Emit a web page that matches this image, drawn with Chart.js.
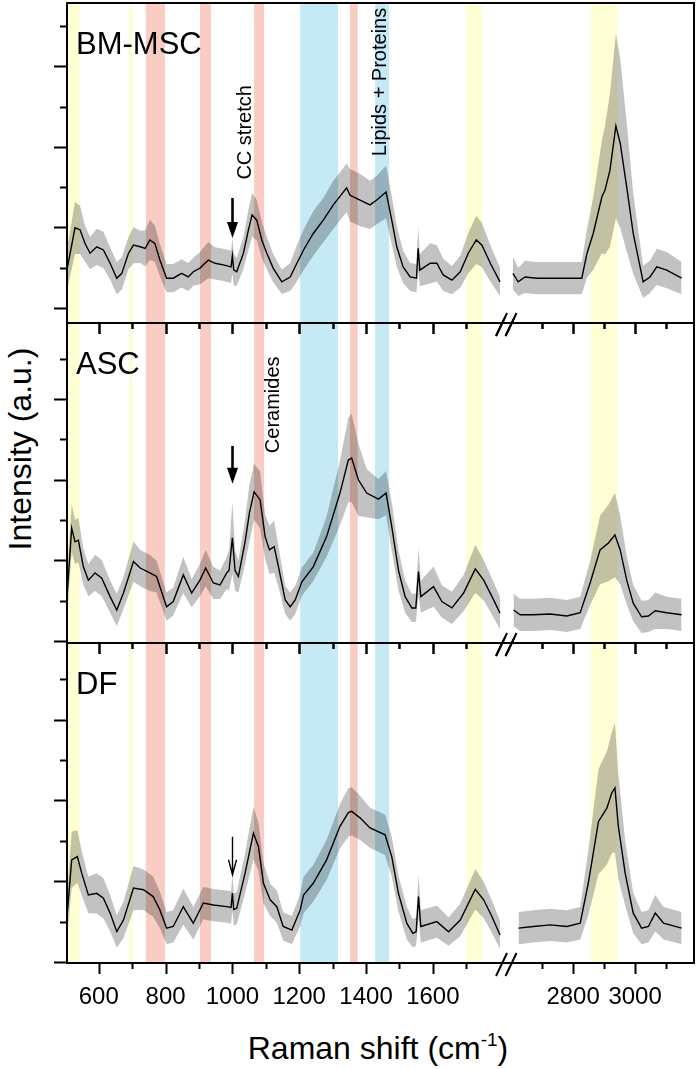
<!DOCTYPE html>
<html>
<head>
<meta charset="utf-8">
<script src="https://cdn.jsdelivr.net/npm/chart.js@4.4.1/dist/chart.umd.min.js"></script>
<style>
  html, body { margin: 0; padding: 0; background: #fff; }
  #fig { position: relative; width: 700px; height: 1069px; overflow: hidden;
         font-family: "Liberation Sans", Arial, sans-serif; color: #000; }
  #fig canvas { position: absolute; left: 0; }
  #ytitle { position: absolute; left: 20px; top: 449px; font-size: 32px; line-height: 32px;
            white-space: nowrap; transform: translate(-50%, -50%) rotate(-90deg); }
  #xtitle { position: absolute; left: 378px; top: 1032px; font-size: 32px; line-height: 32px;
            white-space: nowrap; transform: translateX(-50%); }
  #xtitle sup { font-size: 19px; vertical-align: 0; position: relative; top: -13px; }
</style>
</head>
<body>
<div id="fig">
  <canvas id="p1" width="700" height="340" style="top:0px; width:700px; height:340px; z-index:3"></canvas>
  <canvas id="p2" width="700" height="342" style="top:318px; width:700px; height:342px; z-index:2"></canvas>
  <canvas id="p3" width="700" height="431" style="top:638px; width:700px; height:431px; z-index:1"></canvas>
  <div id="ytitle">Intensity (a.u.)</div>
  <div id="xtitle">Raman shift (cm<sup>-1</sup>)</div>
</div>
<script>
// Raman shift grid (cm-1); 2200 marks the axis break (no data)
const bmShift = [505, 529, 544, 559, 574, 594, 614, 634, 654, 669, 689, 704, 724, 739, 753, 768, 783, 803, 823, 848,
  868, 883, 903, 928, 948, 973, 996, 1000, 1004, 1013, 1033, 1048, 1059, 1073, 1088, 1103, 1122, 1148, 1173, 1193,
  1213, 1242, 1272, 1302, 1342, 1352, 1382, 1412, 1432, 1460, 1477, 1492, 1511, 1532, 1551, 1556, 1561, 1592, 1612, 1631,
  1657, 1682, 1706, 1730, 1747, 1772, 1801, 2200, 2606, 2623, 2645, 2683, 2726, 2780, 2828, 2845, 2865, 2893,
  2903, 2919, 2938, 2952, 2973, 2994, 3026, 3048, 3070, 3102, 3150];
const bmMean = [0.95, 1.99, 1.94, 1.6, 1.36, 1.52, 1.44, 1.11, 0.74, 0.86, 1.36, 1.56, 1.52, 1.48, 1.69, 1.6, 1.19, 0.74, 0.74, 0.86,
  0.77, 0.9, 0.99, 1.19, 1.11, 1.07, 1.02, 1.3, 0.95, 0.9, 1.36, 1.94, 2.31, 2.18, 1.69, 1.36, 0.99, 0.65, 0.77, 1.11,
  1.44, 1.85, 2.18, 2.56, 2.98, 2.8, 2.68, 2.56, 2.68, 2.88, 2.18, 1.52, 1.02, 0.77, 0.74, 1.48, 0.94, 1.11, 1.11, 0.82,
  0.69, 0.9, 1.36, 1.69, 1.56, 1.11, 0.65, null, 0.86, 0.65, 0.77, 0.74, 0.74, 0.74, 0.74, 1.36, 1.85, 2.76,
  2.93, 3.42, 4.52, 4.09, 3.0, 1.85, 0.65, 0.77, 1.02, 0.94, 0.74];
const bmSpread = [0.5, 0.65, 0.6, 0.45, 0.4, 0.45, 0.45, 0.4, 0.4, 0.4, 0.4, 0.45, 0.4, 0.45, 0.5, 0.45, 0.4, 0.35, 0.35, 0.35,
  0.35, 0.35, 0.4, 0.45, 0.4, 0.4, 0.4, 0.45, 0.4, 0.35, 0.4, 0.5, 0.55, 0.5, 0.45, 0.4, 0.35, 0.3, 0.35, 0.45,
  0.5, 0.55, 0.55, 0.6, 0.6, 0.65, 0.65, 0.6, 0.6, 0.65, 0.6, 0.5, 0.4, 0.35, 0.35, 0.55, 0.4, 0.5, 0.45, 0.4,
  0.35, 0.4, 0.5, 0.6, 0.55, 0.45, 0.35, null, 0.4, 0.35, 0.4, 0.4, 0.4, 0.4, 0.4, 0.6, 0.9, 1.4,
  1.6, 1.9, 2.3, 2.1, 1.6, 1.0, 0.4, 0.4, 0.45, 0.45, 0.4];

const ascShift = [505, 519, 529, 539, 554, 569, 589, 609, 634, 654, 674, 704, 724, 753, 773, 803, 823, 853, 878, 903,
  920, 943, 963, 983, 990, 1000, 1008, 1018, 1038, 1051, 1065, 1083, 1098, 1111, 1125, 1138, 1158, 1173, 1188, 1208,
  1242, 1282, 1322, 1347, 1357, 1377, 1402, 1437, 1460, 1477, 1497, 1517, 1537, 1549, 1557, 1564, 1602, 1627, 1657, 1692,
  1727, 1752, 1777, 1801, 2200, 2608, 2629, 2672, 2726, 2780, 2823, 2855, 2887, 2914, 2935, 2952, 2973, 2994, 3021, 3043,
  3065, 3102, 3150];
const ascMean = [1.1, 2.8, 2.46, 2.5, 1.84, 1.51, 1.69, 1.56, 1.1, 0.77, 1.19, 1.97, 1.81, 1.69, 1.6, 0.85, 0.98, 1.64, 1.19, 1.51,
  1.81, 1.44, 1.39, 1.69, 1.75, 2.56, 1.75, 1.6, 2.46, 3.18, 3.7, 3.5, 2.59, 2.26, 2.34, 1.84, 1.02, 0.85, 1.02, 1.47,
  1.84, 2.59, 3.67, 4.49, 4.54, 4.0, 3.67, 3.52, 3.67, 2.84, 1.76, 1.1, 0.82, 0.82, 1.72, 1.1, 1.35, 0.98, 0.82, 1.19,
  1.79, 1.51, 1.1, 0.69, null, 0.77, 0.65, 0.65, 0.67, 0.62, 0.7, 1.44, 2.26, 2.43, 2.63, 2.26, 1.51, 0.94, 0.6, 0.62,
  0.75, 0.7, 0.65];
const ascSpread = [0.5, 0.6, 0.55, 0.55, 0.45, 0.4, 0.45, 0.45, 0.4, 0.4, 0.4, 0.5, 0.45, 0.45, 0.4, 0.35, 0.35, 0.45, 0.35, 0.4,
  0.45, 0.4, 0.35, 0.4, 0.5, 0.9, 0.5, 0.4, 0.55, 0.7, 0.7, 0.7, 0.55, 0.6, 0.65, 0.5, 0.35, 0.35, 0.35, 0.35,
  0.35, 0.5, 0.8, 1.05, 1.1, 0.9, 0.6, 0.5, 0.55, 0.6, 0.5, 0.4, 0.35, 0.35, 0.6, 0.4, 0.5, 0.4, 0.4, 0.45,
  0.6, 0.5, 0.45, 0.4, null, 0.4, 0.4, 0.4, 0.4, 0.4, 0.4, 0.55, 0.85, 0.95, 1.05, 0.85, 0.6, 0.45, 0.4, 0.4,
  0.45, 0.4, 0.4];

const dfShift = [505, 519, 536, 549, 569, 594, 614, 634, 654, 674, 704, 734, 763, 783, 803, 823, 853, 883, 913, 943,
  983, 996, 1000, 1004, 1013, 1038, 1063, 1078, 1093, 1113, 1133, 1152, 1178, 1203, 1213, 1242, 1282, 1322, 1347, 1357,
  1382, 1412, 1457, 1477, 1497, 1522, 1540, 1550, 1557, 1564, 1612, 1647, 1682, 1727, 1752, 1777, 1801, 2200,
  2624, 2672, 2726, 2780, 2823, 2849, 2882, 2909, 2925, 2935, 2946, 2968, 2994, 3021, 3043, 3065, 3092, 3150];
const dfMean = [1.12, 2.53, 2.61, 2.2, 1.66, 1.7, 1.58, 1.21, 0.75, 1.04, 1.83, 1.79, 1.62, 1.29, 0.84, 0.88, 1.37, 0.96, 1.46, 1.41,
  1.37, 1.35, 1.71, 1.3, 1.33, 2.2, 3.19, 2.86, 1.95, 1.54, 1.37, 0.88, 0.79, 1.29, 1.66, 1.95, 2.53, 3.36, 3.7, 3.73,
  3.57, 3.32, 3.15, 2.61, 1.7, 0.96, 0.71, 0.75, 1.62, 0.88, 1.0, 0.75, 1.04, 1.8, 1.54, 1.12, 0.67, null,
  0.84, 0.88, 0.92, 0.88, 0.96, 1.95, 3.48, 3.81, 4.19, 4.31, 3.36, 2.2, 1.21, 0.84, 0.88, 1.21, 0.96, 0.84];
const dfSpread = [0.5, 0.7, 0.65, 0.55, 0.45, 0.5, 0.5, 0.45, 0.4, 0.45, 0.55, 0.5, 0.5, 0.45, 0.4, 0.4, 0.45, 0.4, 0.4, 0.4,
  0.4, 0.4, 0.45, 0.4, 0.4, 0.5, 0.65, 0.6, 0.5, 0.4, 0.4, 0.35, 0.35, 0.4, 0.45, 0.45, 0.5, 0.55, 0.6, 0.6,
  0.55, 0.5, 0.5, 0.5, 0.45, 0.4, 0.35, 0.35, 0.55, 0.4, 0.4, 0.35, 0.4, 0.5, 0.45, 0.4, 0.35, null,
  0.4, 0.4, 0.4, 0.4, 0.4, 0.8, 1.3, 1.4, 1.5, 1.6, 1.3, 0.8, 0.5, 0.4, 0.4, 0.45, 0.4, 0.4];

// highlighted spectral regions (cm-1)
const yellowBands = [[505, 545], [690, 702], [1700, 1748], [2857, 2943]];
const redBands = [[741, 798], [903, 936], [1065, 1095], [1352, 1375]];
const blueBands = [[1203, 1316], [1427, 1469]];

const xTicks = [600, 700, 800, 900, 1000, 1100, 1200, 1300, 1400, 1500, 1600, 1700, 2700, 2800, 2900, 3000, 3100];
const xTickLabels = ['600', '', '800', '', '1000', '', '1200', '', '1400', '', '1600', '', '', '2800', '', '3000', ''];
const yTicks = [0, 1, 2, 3, 4, 5, 6, 7];

const FONT = '"Liberation Sans", Arial, sans-serif';
const BREAK_L = 1822, BREAK_R = 2587, RIGHT_SCALE = 0.928;

// broken axis: left part as is, right part squeezed after the break
function toAxis(w) {
  if (w <= BREAK_L) return w;
  if (w < BREAK_R) return BREAK_L;
  return BREAK_L + (w - BREAK_R) * RIGHT_SCALE;
}

function series(shift, mean, spread, sign) {
  return shift.map((w, i) => ({
    x: toAxis(w),
    y: mean[i] == null ? null : mean[i] + sign * spread[i]
  }));
}

function drawArrow(ctx, px, y0, y1, thin) {
  ctx.strokeStyle = '#000';
  ctx.fillStyle = '#000';
  if (thin) {
    ctx.lineWidth = 1.4;
    ctx.beginPath();
    ctx.moveTo(px, y0); ctx.lineTo(px, y1);
    ctx.moveTo(px - 4, y1 - 15); ctx.lineTo(px, y1); ctx.lineTo(px + 4, y1 - 15);
    ctx.stroke();
  } else {
    ctx.lineWidth = 2.6;
    ctx.beginPath();
    ctx.moveTo(px, y0); ctx.lineTo(px, y1 - 12);
    ctx.stroke();
    ctx.beginPath();
    ctx.moveTo(px - 5.5, y1 - 16); ctx.lineTo(px + 5.5, y1 - 16); ctx.lineTo(px, y1);
    ctx.closePath();
    ctx.fill();
  }
}

// x ticks + break marks hanging below an axis line at yAxis
function drawXAxisMarks(ctx, x, yAxis) {
  ctx.beginPath();
  xTicks.forEach((w, i) => {
    const px = Math.round(x.getPixelForValue(toAxis(w))) + 0.5;
    const len = xTickLabels[i] ? 11 : 6;
    ctx.moveTo(px, yAxis);
    ctx.lineTo(px, yAxis + len);
  });
  const cx = x.getPixelForValue(BREAK_L);
  for (const dx of [0, 9.5]) {
    ctx.moveTo(cx - 11 + dx, yAxis + 13);
    ctx.lineTo(cx + dx, yAxis - 10);
  }
  ctx.stroke();
}

const decor = {
  id: 'decor',
  beforeDatasetsDraw(chart, args, opts) {
    const { ctx, chartArea: a, scales: { x } } = chart;
    ctx.save();
    ctx.beginPath();
    ctx.rect(a.left, a.top, a.width, a.height);
    ctx.clip();
    const sets = [[yellowBands, 'rgb(255,255,214)'], [redBands, 'rgb(249,204,196)'], [blueBands, 'rgb(197,233,245)']];
    for (const [list, color] of sets) {
      ctx.fillStyle = color;
      for (const [w0, w1] of list) {
        const x0 = x.getPixelForValue(toAxis(w0));
        const x1 = x.getPixelForValue(toAxis(w1));
        ctx.fillRect(x0, a.top, x1 - x0, a.height);
      }
    }
    ctx.restore();
  },
  afterDraw(chart, args, opts) {
    const { ctx, chartArea: a, scales: { x, y } } = chart;
    ctx.save();
    ctx.strokeStyle = '#000';
    ctx.fillStyle = '#000';
    ctx.lineWidth = 2;
    ctx.strokeRect(a.left, a.top, a.width, a.height);

    // y ticks, outward
    ctx.beginPath();
    for (const v of yTicks) {
      const py = Math.round(y.getPixelForValue(v)) + 0.5;
      if (py < a.top || py > a.bottom + 1) continue;
      const len = v % 2 === 0 ? 13 : 7;
      ctx.moveTo(a.left - len, py);
      ctx.lineTo(a.left, py);
    }
    ctx.stroke();

    // own bottom axis, and the one of the panel above (shared edge)
    drawXAxisMarks(ctx, x, a.bottom);
    if (opts.sharedTop) drawXAxisMarks(ctx, x, a.top);

    // panel name
    ctx.font = '31px ' + FONT;
    ctx.textAlign = 'left';
    ctx.textBaseline = 'alphabetic';
    ctx.fillText(opts.name, a.left + 9, a.top + 51);

    // rotated notes
    ctx.font = '20px ' + FONT;
    ctx.textAlign = 'center';
    ctx.textBaseline = 'middle';
    for (const n of opts.notes) {
      ctx.save();
      ctx.translate(x.getPixelForValue(toAxis(n.x)), y.getPixelForValue(n.y));
      ctx.rotate(-Math.PI / 2);
      ctx.fillText(n.text, 0, 0);
      ctx.restore();
    }

    const ar = opts.arrow;
    drawArrow(ctx, Math.round(x.getPixelForValue(toAxis(ar.x))) + 0.5,
      y.getPixelForValue(ar.from), y.getPixelForValue(ar.to), ar.thin);
    ctx.restore();
  }
};

const panels = [
  { id: 'p1', name: 'BM-MSC', shift: bmShift, mean: bmMean, spread: bmSpread, yMin: -0.372, yMax: 7.57,
    pad: { top: 3, bottom: 17 }, showX: false, sharedTop: false,
    notes: [{ x: 1038, y: 4.36, text: 'CC stretch' }, { x: 1442, y: 5.61, text: 'Lipids + Proteins' }],
    arrow: { x: 1000, from: 2.73, to: 1.74, thin: false } },
  { id: 'p2', name: 'ASC', shift: ascShift, mean: ascMean, spread: ascSpread, yMin: -0.05, yMax: 7.89,
    pad: { top: 5, bottom: 17 }, showX: false, sharedTop: true,
    notes: [{ x: 1123, y: 5.86, text: 'Ceramides' }],
    arrow: { x: 1000, from: 4.84, to: 3.9, thin: false } },
  { id: 'p3', name: 'DF', shift: dfShift, mean: dfMean, spread: dfSpread, yMin: -0.025, yMax: 7.9,
    pad: { top: 5, bottom: 0 }, showX: true, sharedTop: true,
    notes: [],
    arrow: { x: 1000, from: 3.1, to: 2.16, thin: true } }
];

for (const p of panels) {
  new Chart(document.getElementById(p.id), {
    type: 'line',
    data: {
      datasets: [
        { data: series(p.shift, p.mean, p.spread, 1), borderWidth: 0, pointRadius: 0, fill: false, spanGaps: false },
        { data: series(p.shift, p.mean, p.spread, -1), borderWidth: 0, pointRadius: 0, fill: '-1',
          backgroundColor: 'rgba(0,0,0,0.24)', spanGaps: false },
        { data: series(p.shift, p.mean, p.spread, 0), borderColor: '#000', borderWidth: 1.4, pointRadius: 0,
          fill: false, spanGaps: false }
      ]
    },
    options: {
      responsive: false,
      maintainAspectRatio: false,
      animation: false,
      layout: { autoPadding: false, padding: { left: 67, right: 6, top: p.pad.top, bottom: p.pad.bottom } },
      scales: {
        x: {
          type: 'linear',
          min: toAxis(505),
          max: toAxis(3190),
          display: p.showX,
          grid: { display: false, drawTicks: false },
          border: { display: false },
          afterBuildTicks: s => { s.ticks = xTicks.map(w => ({ value: toAxis(w) })); },
          afterFit: s => { s.height = p.showX ? 106 : 0; },
          ticks: {
            autoSkip: false, maxRotation: 0, minRotation: 0, padding: 20, color: '#000',
            font: { family: FONT, size: 24 },
            callback: (v, i) => xTickLabels[i]
          }
        },
        y: { min: p.yMin, max: p.yMax, display: false }
      },
      plugins: {
        legend: { display: false },
        tooltip: { enabled: false },
        decor: { name: p.name, notes: p.notes, arrow: p.arrow, sharedTop: p.sharedTop }
      }
    },
    plugins: [decor]
  });
}
</script>
</body>
</html>
